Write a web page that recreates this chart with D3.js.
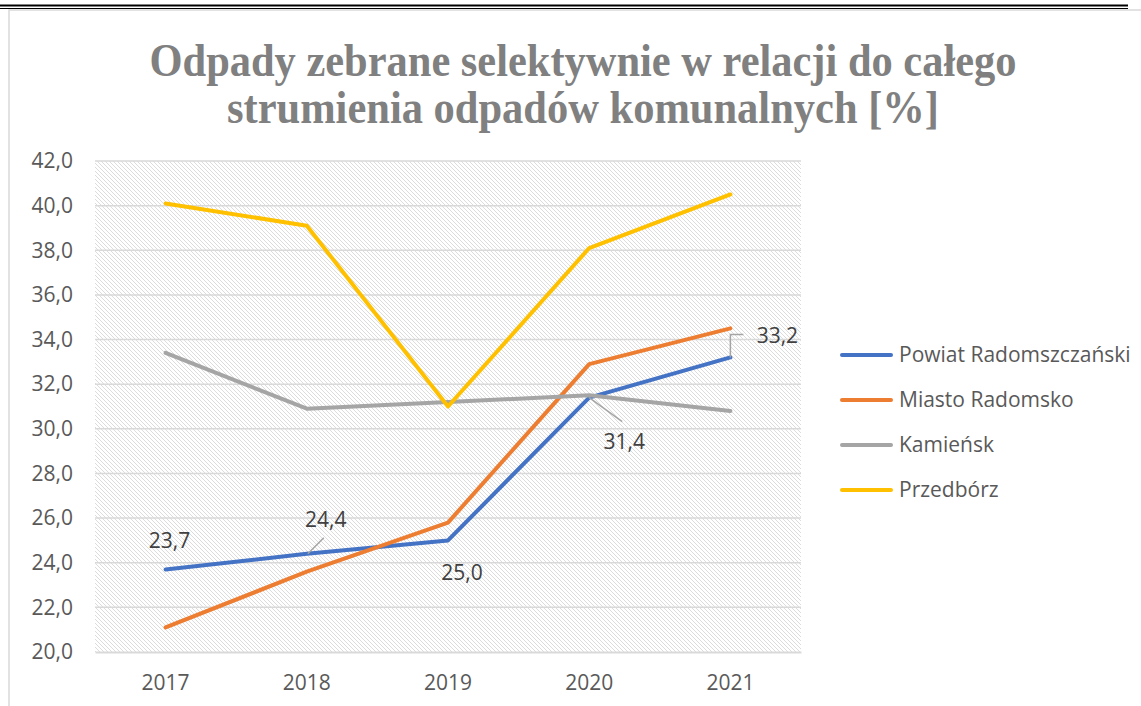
<!DOCTYPE html>
<html>
<head>
<meta charset="utf-8">
<script src="https://cdn.jsdelivr.net/npm/d3@7"></script>
<style>
  body { margin: 0; background: #ffffff; }
  svg { display: block; }
</style>
</head>
<body>
<svg></svg>
<script>
//Chart data.
var years = ["2017", "2018", "2019", "2020", "2021"];
var seriesNames = ["Powiat Radomszczański", "Miasto Radomsko", "Kamieńsk", "Przedbórz"];
var powiat = [23.7, 24.4, 25.0, 31.4, 33.2];
var miasto = [21.1, 23.6, 25.8, 32.9, 34.5];
var kamiensk = [33.4, 30.9, 31.2, 31.5, 30.8];
var przedborz = [40.1, 39.1, 31.0, 38.1, 40.5];
var yTicks = [20, 22, 24, 26, 28, 30, 32, 34, 36, 38, 40, 42];
var titleLines = ["Odpady zebrane selektywnie w relacji do całego", "strumienia odpadów komunalnych [%]"];

var seriesValues = [powiat, miasto, kamiensk, przedborz];
var colors = ["#4472C4", "#ED7D31", "#A5A5A5", "#FFC000"];

var w = 1141;
var h = 706;

var svg = d3.select("svg");
svg.attr("width", w).attr("height", h);

//Hatched fill for the plot area (light "\\" stripes like the Excel pattern).
var defs = svg.append("defs");
defs.append("pattern")
  .attr("id", "hatch")
  .attr("patternUnits", "userSpaceOnUse")
  .attr("width", 4)
  .attr("height", 4)
  .append("path")
    .attr("d", "M-1,-1 L5,5 M-1,3 L1,5 M3,-1 L5,1")
    .attr("stroke", "#dcdcdc")
    .attr("stroke-width", 1);

//Document rules above the chart object.
svg.append("line").attr("x1", 0).attr("x2", 1128).attr("y1", 5.5).attr("y2", 5.5)
  .attr("stroke", "#000").attr("stroke-width", 2);
svg.append("line").attr("x1", 0).attr("x2", 1128).attr("y1", 8.5).attr("y2", 8.5)
  .attr("stroke", "#000").attr("stroke-width", 1);

//Chart frame (only the top and left edges are visible).
svg.append("rect")
  .attr("x", 9).attr("y", 10)
  .attr("width", 1160).attr("height", 720)
  .attr("fill", "#ffffff")
  .attr("stroke", "#d9d9d9")
  .attr("stroke-width", 1.5);

//Title.
svg.append("g")
  .selectAll("text")
  .data(titleLines)
  .enter().append("text")
    .text(d => d)
    .attr("x", 583)
    .attr("y", (d, i) => 76 + i * 47)
    .attr("text-anchor", "middle")
    .attr("font-family", "Liberation Serif, Times New Roman, serif")
    .attr("font-weight", "bold")
    .attr("font-size", 47)
    .attr("fill", "#808080")
    .attr("textLength", (d, i) => i == 0 ? 867 : 712)
    .attr("lengthAdjust", "spacingAndGlyphs");

//Scales.
var x = d3.scaleBand().domain(years).range([95, 801]);
var y = d3.scaleLinear().domain([20, 42]).range([652, 161]);
var cx = d => x(d) + x.bandwidth() / 2;

//Plot area background.
svg.append("rect")
  .attr("x", 95).attr("y", 161)
  .attr("width", 706).attr("height", 491)
  .attr("fill", "url(#hatch)");

//Horizontal gridlines.
svg.append("g")
  .selectAll("line")
  .data(yTicks.slice(1))
  .enter().append("line")
    .attr("x1", 95).attr("x2", 801)
    .attr("y1", d => y(d)).attr("y2", d => y(d))
    .attr("stroke", "#d9d9d9")
    .attr("stroke-width", 1.5);

//Y axis labels.
var yAxis = svg.append("g")
  .attr("transform", "translate(95,0)")
  .call(d3.axisLeft(y).tickValues(yTicks).tickSize(0).tickPadding(22)
    .tickFormat(d => d3.format(".1f")(d).replace(".", ",")));
yAxis.select(".domain").remove();
yAxis.selectAll("text")
  .attr("font-family", "Open Sans, sans-serif")
  .attr("font-size", 21)
  .attr("fill", "#595959");

//X axis with its baseline.
var xAxis = svg.append("g")
  .attr("transform", "translate(0,652)")
  .call(d3.axisBottom(x).tickSize(0).tickPadding(23));
xAxis.select(".domain").attr("stroke", "#d9d9d9").attr("stroke-width", 2);
xAxis.selectAll("text")
  .attr("font-family", "Open Sans, sans-serif")
  .attr("font-size", 21)
  .attr("fill", "#595959");

//Series lines.
var lineGen = d3.line()
  .x((d, i) => cx(years[i]))
  .y(d => y(d));

svg.append("g")
  .selectAll("path")
  .data(seriesValues)
  .enter().append("path")
    .attr("d", d => lineGen(d))
    .attr("fill", "none")
    .attr("stroke", (d, i) => colors[i])
    .attr("stroke-width", 4)
    .attr("stroke-linejoin", "round")
    .attr("stroke-linecap", "round");

//Data labels for the first series, with offsets and leader lines as in Excel.
var labelOffsets = [[4, -29], [19, -34], [14, 32], [35, 44], [47, -22]];
var leaders = [null, [[1, 0], [17, -16]], null, [[0, 0], [33, 24]], [[0, 0], [0, -23], [13, -23]]];

svg.append("g")
  .selectAll("path")
  .data(leaders.map((l, i) => ({l: l, i: i})).filter(d => d.l))
  .enter().append("path")
    .attr("d", d => d3.line()(d.l.map(p => [cx(years[d.i]) + p[0], y(powiat[d.i]) + p[1]])))
    .attr("fill", "none")
    .attr("stroke", "#A5A5A5")
    .attr("stroke-width", 1.5);

svg.append("g")
  .selectAll("text")
  .data(powiat)
  .enter().append("text")
    .text(d => d3.format(".1f")(d).replace(".", ","))
    .attr("x", (d, i) => cx(years[i]) + labelOffsets[i][0])
    .attr("y", (d, i) => y(d) + labelOffsets[i][1])
    .attr("dy", "0.35em")
    .attr("text-anchor", "middle")
    .attr("font-family", "Open Sans, sans-serif")
    .attr("font-size", 21)
    .attr("fill", "#404040");

//Legend.
var legend = svg.append("g")
  .selectAll("g")
  .data(seriesNames)
  .enter().append("g")
    .attr("transform", (d, i) => "translate(840," + (355 + i * 45) + ")");
legend.append("line")
  .attr("x1", 2).attr("x2", 51)
  .attr("stroke", (d, i) => colors[i])
  .attr("stroke-width", 4)
  .attr("stroke-linecap", "round");
legend.append("text")
  .text(d => d)
  .attr("x", 59)
  .attr("dy", "0.35em")
  .attr("font-family", "Open Sans, sans-serif")
  .attr("font-size", 21)
  .attr("fill", "#595959");
</script>
</body>
</html>
